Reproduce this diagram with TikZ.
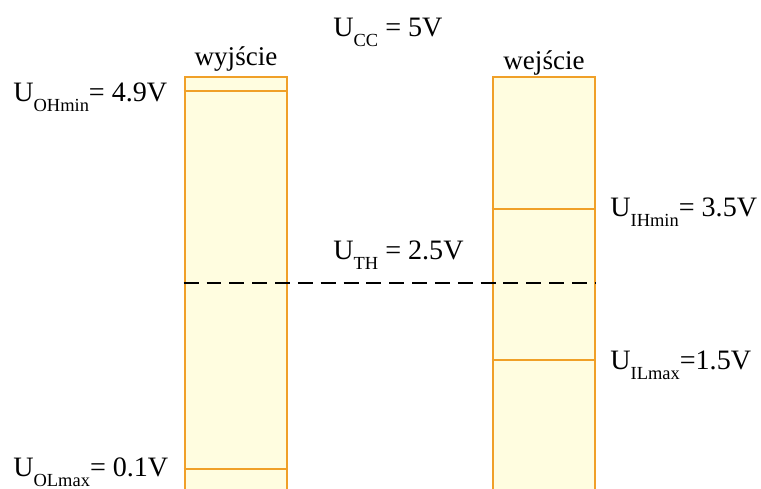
\documentclass[tikz,border=0pt]{standalone}
\usepackage{fontspec}
\setmainfont{Liberation Serif}
\usepackage{tikz}
\usetikzlibrary{positioning}

\definecolor{bandline}{RGB}{240,160,40}
\definecolor{bandfill}{RGB}{255,253,224}
\newcommand{\lo}[1]{\raisebox{-5.5pt}{\fontsize{10.5}{11}\selectfont #1}}

\begin{document}
\begin{tikzpicture}[
    x=0.02cm, y=-0.02cm,
    band/.style={draw=bandline, fill=bandfill, line width=1.5pt,
                 minimum width=2.04cm, minimum height=8.46cm, inner sep=0pt},
    lvl/.style={draw=bandline, line width=1.7pt},
    thr/.style={draw=black, line width=1.2pt, dash pattern=on 8.5pt off 4.5pt},
    lbl/.style={font=\fontsize{16}{19}\selectfont, inner sep=0pt},
    ttl/.style={font=\fontsize{15.4}{18}\selectfont, inner sep=0pt},
  ]
  \useasboundingbox (0,0) rectangle (761,489);

  % ============ Bands ============
  \node[band] (wyj) at (236,288.5) {};
  \node[band] (wej) at (544,288.5) {};

  \node[ttl, above=2.5pt of wyj] (wyjt) {wyjście};
  \node[ttl, above=0pt of wej] (wejt) {wejście};

  % ============ Levels ============
  \draw[lvl] (wyj.west |- 0,91) -- (wyj.east |- 0,91);
  \draw[lvl] (wyj.west |- 0,469) -- (wyj.east |- 0,469);
  \draw[lvl] (wej.west |- 0,209) -- (wej.east |- 0,209);
  \draw[lvl] (wej.west |- 0,360) -- (wej.east |- 0,360);

  % threshold
  \draw[thr] (wyj.west |- 0,283) -- (wej.east |- 0,283);

  % ============ Labels ============
  \node[lbl, anchor=base west] (ucc) at (333,37) {U\lo{CC} = 5V};
  \node[lbl, anchor=base west] (uth) at (333,260) {U\lo{TH} = 2.5V};
  \node[lbl, anchor=base west] (uoh) at (13,102) {U\lo{OHmin}= 4.9V};
  \node[lbl, anchor=base west] (uol) at (13,477) {U\lo{OLmax}= 0.1V};
  \node[lbl, anchor=base west] (uih) at (610,217) {U\lo{IHmin}= 3.5V};
  \node[lbl, anchor=base west] (uil) at (610,370) {U\lo{ILmax}=1.5V};

\end{tikzpicture}
\end{document}
